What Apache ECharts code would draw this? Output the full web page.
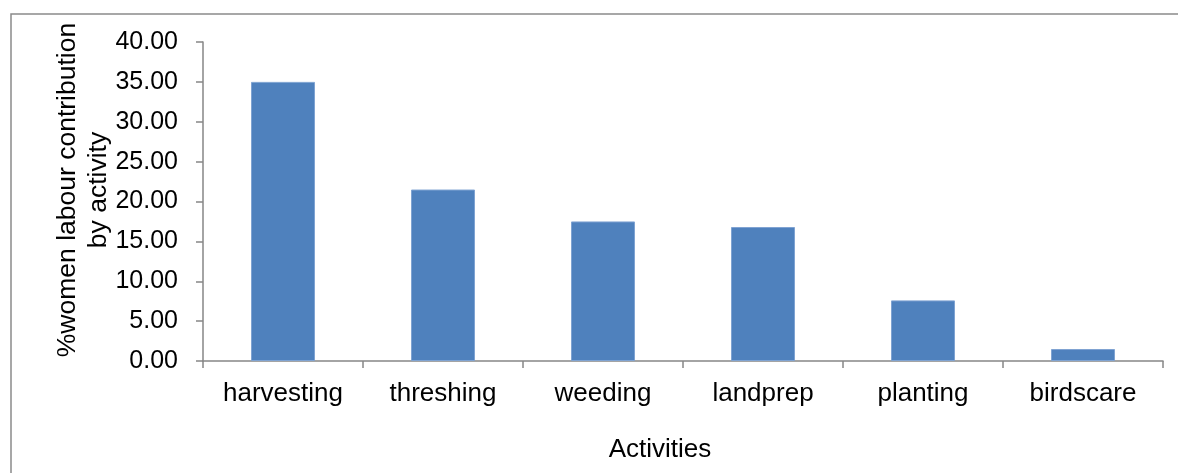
<!DOCTYPE html>
<html>
<head>
<meta charset="utf-8">
<script src="https://cdn.jsdelivr.net/npm/echarts@6/dist/echarts.min.js"></script>
<style>
  html, body { margin: 0; padding: 0; background: #fff; }
  #chart { width: 1178px; height: 473px; }
</style>
</head>
<body>
<div id="chart"></div>
<script>
// Share of women's labour by farm activity (%)
const activities = ['harvesting', 'threshing', 'weeding', 'landprep', 'planting', 'birdscare'];
const womenShare = [35.0, 21.5, 17.5, 16.8, 7.6, 1.5];
const yTicks = { min: 0, max: 40, interval: 5 };

const FONT = '"Liberation Sans", Arial, sans-serif';
const AXIS_GREY = '#868686';

const chart = echarts.init(document.getElementById('chart'), null, { renderer: 'canvas' });

chart.setOption({
  animation: false,
  backgroundColor: '#ffffff',
  textStyle: { fontFamily: FONT },
  graphic: [{
    type: 'rect',
    x: 11, y: 14,
    shape: { width: 1240, height: 520 },
    style: { fill: 'none', stroke: '#8a8a8a', lineWidth: 1.5 },
    silent: true
  }, {
    type: 'text',
    rotation: Math.PI / 2,
    x: 83, y: 190,
    style: {
      text: '%women labour contribution\nby activity',
      font: '26.5px ' + FONT,
      fill: '#000',
      align: 'center',
      verticalAlign: 'middle',
      lineHeight: 31
    },
    silent: true
  }, {
    type: 'text',
    x: 660, y: 450,
    style: {
      text: 'Activities',
      font: '26px ' + FONT,
      fill: '#000',
      align: 'center',
      verticalAlign: 'middle'
    },
    silent: true
  }],
  grid: { left: 203, right: 15, top: 42, bottom: 112, containLabel: false },
  xAxis: {
    type: 'category',
    data: activities,
    boundaryGap: true,
    axisLine: { show: true, lineStyle: { color: AXIS_GREY, width: 1.5 } },
    axisTick: { show: true, alignWithLabel: false, length: 7, lineStyle: { color: AXIS_GREY, width: 1.5 } },
    axisLabel: { color: '#000', fontSize: 26, fontFamily: FONT, margin: 20 },
    splitLine: { show: false }
  },
  yAxis: {
    type: 'value',
    min: yTicks.min,
    max: yTicks.max,
    interval: yTicks.interval,
    axisLine: { show: true, lineStyle: { color: AXIS_GREY, width: 1.5 } },
    axisTick: { show: true, length: 7, lineStyle: { color: AXIS_GREY, width: 1.5 } },
    axisLabel: {
      color: '#000', fontSize: 25, fontFamily: FONT, margin: 25,
      formatter: v => v.toFixed(2)
    },
    splitLine: { show: false }
  },
  series: [{
    type: 'bar',
    data: womenShare,
    barWidth: '40%',
    itemStyle: { color: '#4f81bd', borderColor: '#7fa3d2', borderWidth: 1 }
  }]
});
</script>
</body>
</html>
